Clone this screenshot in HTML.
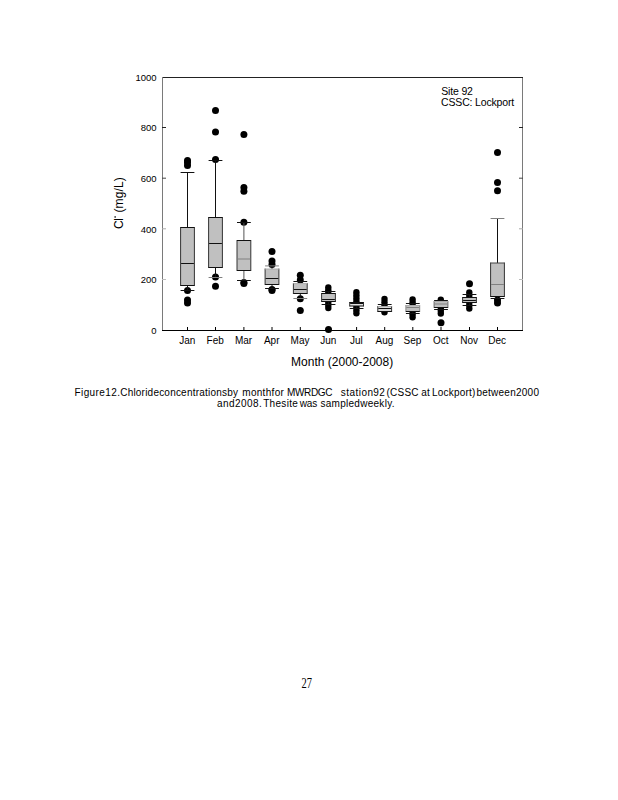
<!DOCTYPE html>
<html><head><meta charset="utf-8"><style>
html,body{margin:0;padding:0;background:#fff;}
body{width:618px;height:800px;overflow:hidden;}
svg{display:block;}
text{font-family:"Liberation Sans",sans-serif;fill:#000;}
</style></head><body>
<svg width="618" height="800" viewBox="0 0 618 800">
<rect x="0" y="0" width="618" height="800" fill="#fff"/>
<g fill="#000"><circle cx="187.50" cy="160.50" r="3.5"/><circle cx="187.50" cy="162.50" r="3.5"/><circle cx="187.50" cy="165.50" r="3.5"/><circle cx="187.50" cy="290.50" r="3.5"/><circle cx="187.50" cy="300.00" r="3.5"/><circle cx="187.50" cy="303.00" r="3.5"/><circle cx="215.50" cy="110.60" r="3.5"/><circle cx="215.50" cy="131.90" r="3.5"/><circle cx="215.50" cy="159.40" r="3.5"/><circle cx="215.50" cy="277.00" r="3.5"/><circle cx="215.50" cy="286.20" r="3.5"/><circle cx="243.90" cy="134.40" r="3.5"/><circle cx="243.90" cy="187.50" r="3.5"/><circle cx="243.90" cy="191.20" r="3.5"/><circle cx="243.90" cy="222.20" r="3.5"/><circle cx="243.90" cy="282.50" r="3.5"/><circle cx="243.90" cy="283.50" r="3.5"/><circle cx="272.00" cy="251.50" r="3.5"/><circle cx="272.00" cy="261.00" r="3.5"/><circle cx="272.00" cy="264.50" r="3.5"/><circle cx="272.00" cy="289.50" r="3.5"/><circle cx="272.00" cy="290.50" r="3.5"/><circle cx="300.30" cy="275.30" r="3.5"/><circle cx="300.30" cy="280.00" r="3.5"/><circle cx="300.30" cy="298.70" r="3.5"/><circle cx="300.30" cy="310.50" r="3.5"/><circle cx="328.30" cy="287.40" r="3.2"/><circle cx="328.30" cy="290.34" r="3.2"/><circle cx="328.30" cy="293.29" r="3.2"/><circle cx="328.30" cy="296.23" r="3.2"/><circle cx="328.30" cy="299.17" r="3.2"/><circle cx="328.30" cy="302.11" r="3.2"/><circle cx="328.30" cy="305.06" r="3.2"/><circle cx="328.30" cy="308.00" r="3.2"/><circle cx="328.50" cy="329.50" r="3.5"/><circle cx="356.40" cy="292.30" r="3.2"/><circle cx="356.40" cy="295.30" r="3.2"/><circle cx="356.40" cy="298.30" r="3.2"/><circle cx="356.40" cy="301.30" r="3.2"/><circle cx="356.40" cy="304.30" r="3.2"/><circle cx="356.40" cy="307.30" r="3.2"/><circle cx="356.40" cy="310.30" r="3.2"/><circle cx="356.40" cy="313.30" r="3.2"/><circle cx="384.50" cy="298.90" r="3.2"/><circle cx="384.50" cy="302.25" r="3.2"/><circle cx="384.50" cy="305.60" r="3.2"/><circle cx="384.50" cy="308.95" r="3.2"/><circle cx="384.50" cy="312.30" r="3.2"/><circle cx="412.60" cy="299.50" r="3.2"/><circle cx="412.60" cy="302.47" r="3.2"/><circle cx="412.60" cy="305.43" r="3.2"/><circle cx="412.60" cy="308.40" r="3.2"/><circle cx="412.60" cy="311.37" r="3.2"/><circle cx="412.60" cy="314.33" r="3.2"/><circle cx="412.60" cy="317.30" r="3.2"/><circle cx="440.80" cy="299.80" r="3.2"/><circle cx="440.80" cy="302.54" r="3.2"/><circle cx="440.80" cy="305.28" r="3.2"/><circle cx="440.80" cy="308.02" r="3.2"/><circle cx="440.80" cy="310.76" r="3.2"/><circle cx="440.80" cy="313.50" r="3.2"/><circle cx="441.00" cy="322.80" r="3.5"/><circle cx="469.50" cy="283.70" r="3.5"/><circle cx="469.30" cy="292.50" r="3.2"/><circle cx="469.30" cy="295.70" r="3.2"/><circle cx="469.30" cy="298.90" r="3.2"/><circle cx="469.30" cy="302.10" r="3.2"/><circle cx="469.30" cy="305.30" r="3.2"/><circle cx="469.30" cy="308.50" r="3.2"/><circle cx="497.50" cy="152.50" r="3.5"/><circle cx="497.50" cy="182.50" r="3.5"/><circle cx="497.50" cy="190.80" r="3.5"/><circle cx="497.50" cy="300.00" r="3.5"/><circle cx="497.50" cy="303.00" r="3.5"/></g>
<g stroke-width="1" fill="none"><line x1="187.50" y1="172.50" x2="187.50" y2="227.50" stroke="#111"/><line x1="187.50" y1="285.50" x2="187.50" y2="290.50" stroke="#111"/><line x1="180.60" y1="172.50" x2="194.40" y2="172.50" stroke="#111"/><line x1="180.60" y1="290.50" x2="194.40" y2="290.50" stroke="#111"/><rect x="180.60" y="227.50" width="13.80" height="58.00" fill="#c0c0c0" stroke="none"/><line x1="180.60" y1="227.00" x2="180.60" y2="286.00" stroke="#333"/><line x1="194.40" y1="227.00" x2="194.40" y2="286.00" stroke="#333"/><line x1="180.60" y1="227.50" x2="194.40" y2="227.50" stroke="#111"/><line x1="180.60" y1="285.50" x2="194.40" y2="285.50" stroke="#111"/><line x1="181.10" y1="263.50" x2="193.90" y2="263.50" stroke="#111"/><line x1="215.50" y1="160.50" x2="215.50" y2="217.50" stroke="#111"/><line x1="215.50" y1="267.50" x2="215.50" y2="277.50" stroke="#111"/><line x1="208.60" y1="160.50" x2="222.40" y2="160.50" stroke="#111"/><line x1="208.60" y1="277.50" x2="222.40" y2="277.50" stroke="#808080"/><rect x="208.60" y="217.50" width="13.80" height="50.00" fill="#c0c0c0" stroke="none"/><line x1="208.60" y1="217.00" x2="208.60" y2="268.00" stroke="#333"/><line x1="222.40" y1="217.00" x2="222.40" y2="268.00" stroke="#333"/><line x1="208.60" y1="217.50" x2="222.40" y2="217.50" stroke="#111"/><line x1="208.60" y1="267.50" x2="222.40" y2="267.50" stroke="#111"/><line x1="209.10" y1="243.50" x2="221.90" y2="243.50" stroke="#111"/><line x1="243.90" y1="222.50" x2="243.90" y2="240.50" stroke="#555"/><line x1="243.90" y1="270.50" x2="243.90" y2="280.50" stroke="#555"/><line x1="237.00" y1="222.50" x2="250.80" y2="222.50" stroke="#111"/><line x1="237.00" y1="280.50" x2="250.80" y2="280.50" stroke="#111"/><rect x="237.00" y="240.50" width="13.80" height="30.00" fill="#c0c0c0" stroke="none"/><line x1="237.00" y1="240.00" x2="237.00" y2="271.00" stroke="#333"/><line x1="250.80" y1="240.00" x2="250.80" y2="271.00" stroke="#333"/><line x1="237.00" y1="240.50" x2="250.80" y2="240.50" stroke="#111"/><line x1="237.00" y1="270.50" x2="250.80" y2="270.50" stroke="#111"/><line x1="237.50" y1="259.00" x2="250.30" y2="259.00" stroke="#808080"/><line x1="272.00" y1="265.90" x2="272.00" y2="269.00" stroke="#111"/><line x1="272.00" y1="284.50" x2="272.00" y2="288.50" stroke="#111"/><line x1="265.10" y1="265.90" x2="278.90" y2="265.90" stroke="#808080"/><line x1="265.10" y1="288.50" x2="278.90" y2="288.50" stroke="#111"/><rect x="265.10" y="269.00" width="13.80" height="15.50" fill="#c0c0c0" stroke="none"/><line x1="265.10" y1="268.50" x2="265.10" y2="285.00" stroke="#333"/><line x1="278.90" y1="268.50" x2="278.90" y2="285.00" stroke="#333"/><line x1="265.10" y1="269.00" x2="278.90" y2="269.00" stroke="#aaa"/><line x1="265.10" y1="284.50" x2="278.90" y2="284.50" stroke="#111"/><line x1="265.60" y1="278.50" x2="278.40" y2="278.50" stroke="#111"/><line x1="300.30" y1="281.50" x2="300.30" y2="283.60" stroke="#111"/><line x1="300.30" y1="293.50" x2="300.30" y2="298.50" stroke="#111"/><line x1="293.40" y1="281.50" x2="307.20" y2="281.50" stroke="#111"/><line x1="293.40" y1="298.50" x2="307.20" y2="298.50" stroke="#808080"/><rect x="293.40" y="283.60" width="13.80" height="9.90" fill="#c0c0c0" stroke="none"/><line x1="293.40" y1="283.10" x2="293.40" y2="294.00" stroke="#333"/><line x1="307.20" y1="283.10" x2="307.20" y2="294.00" stroke="#333"/><line x1="293.40" y1="283.60" x2="307.20" y2="283.60" stroke="#aaa"/><line x1="293.40" y1="293.50" x2="307.20" y2="293.50" stroke="#111"/><line x1="293.90" y1="289.50" x2="306.70" y2="289.50" stroke="#111"/><line x1="328.50" y1="291.50" x2="328.50" y2="293.50" stroke="#111"/><line x1="328.50" y1="301.50" x2="328.50" y2="304.50" stroke="#111"/><line x1="321.60" y1="291.50" x2="335.40" y2="291.50" stroke="#111"/><line x1="321.60" y1="304.50" x2="335.40" y2="304.50" stroke="#111"/><rect x="321.60" y="293.50" width="13.80" height="8.00" fill="#c0c0c0" stroke="none"/><line x1="321.60" y1="293.00" x2="321.60" y2="302.00" stroke="#333"/><line x1="335.40" y1="293.00" x2="335.40" y2="302.00" stroke="#333"/><line x1="321.60" y1="293.50" x2="335.40" y2="293.50" stroke="#111"/><line x1="321.60" y1="301.50" x2="335.40" y2="301.50" stroke="#111"/><line x1="322.10" y1="299.50" x2="334.90" y2="299.50" stroke="#111"/><line x1="356.60" y1="306.00" x2="356.60" y2="308.50" stroke="#111"/><line x1="349.70" y1="302.50" x2="363.50" y2="302.50" stroke="#111"/><line x1="349.70" y1="308.50" x2="363.50" y2="308.50" stroke="#111"/><rect x="349.70" y="302.50" width="13.80" height="3.50" fill="#e0e0e0" stroke="none"/><line x1="349.70" y1="302.00" x2="349.70" y2="306.50" stroke="#333"/><line x1="363.50" y1="302.00" x2="363.50" y2="306.50" stroke="#333"/><line x1="349.70" y1="302.50" x2="363.50" y2="302.50" stroke="#111"/><line x1="349.70" y1="306.00" x2="363.50" y2="306.00" stroke="#111"/><line x1="350.20" y1="303.50" x2="363.00" y2="303.50" stroke="#111"/><line x1="384.70" y1="304.50" x2="384.70" y2="306.50" stroke="#111"/><line x1="377.80" y1="304.50" x2="391.60" y2="304.50" stroke="#111"/><line x1="377.80" y1="311.50" x2="391.60" y2="311.50" stroke="#111"/><rect x="377.80" y="306.50" width="13.80" height="5.00" fill="#d8d8d8" stroke="none"/><line x1="377.80" y1="306.00" x2="377.80" y2="312.00" stroke="#333"/><line x1="391.60" y1="306.00" x2="391.60" y2="312.00" stroke="#333"/><line x1="377.80" y1="306.50" x2="391.60" y2="306.50" stroke="#aaa"/><line x1="377.80" y1="311.50" x2="391.60" y2="311.50" stroke="#111"/><line x1="378.30" y1="308.50" x2="391.10" y2="308.50" stroke="#111"/><line x1="412.80" y1="303.50" x2="412.80" y2="305.50" stroke="#111"/><line x1="412.80" y1="311.50" x2="412.80" y2="313.50" stroke="#111"/><line x1="405.90" y1="303.50" x2="419.70" y2="303.50" stroke="#111"/><line x1="405.90" y1="313.50" x2="419.70" y2="313.50" stroke="#111"/><rect x="405.90" y="305.50" width="13.80" height="6.00" fill="#c0c0c0" stroke="none"/><line x1="405.90" y1="305.00" x2="405.90" y2="312.00" stroke="#888"/><line x1="419.70" y1="305.00" x2="419.70" y2="312.00" stroke="#888"/><line x1="405.90" y1="305.50" x2="419.70" y2="305.50" stroke="#aaa"/><line x1="405.90" y1="311.50" x2="419.70" y2="311.50" stroke="#111"/><line x1="406.40" y1="307.50" x2="419.20" y2="307.50" stroke="#808080"/><line x1="441.00" y1="300.50" x2="441.00" y2="301.50" stroke="#111"/><line x1="441.00" y1="307.50" x2="441.00" y2="309.50" stroke="#111"/><line x1="434.10" y1="300.50" x2="447.90" y2="300.50" stroke="#111"/><line x1="434.10" y1="309.50" x2="447.90" y2="309.50" stroke="#111"/><rect x="434.10" y="301.50" width="13.80" height="6.00" fill="#c0c0c0" stroke="none"/><line x1="434.10" y1="301.00" x2="434.10" y2="308.00" stroke="#666"/><line x1="447.90" y1="301.00" x2="447.90" y2="308.00" stroke="#666"/><line x1="434.10" y1="301.50" x2="447.90" y2="301.50" stroke="#aaa"/><line x1="434.10" y1="307.50" x2="447.90" y2="307.50" stroke="#111"/><line x1="434.60" y1="304.00" x2="447.40" y2="304.00" stroke="#808080"/><line x1="469.50" y1="294.50" x2="469.50" y2="297.50" stroke="#111"/><line x1="469.50" y1="302.50" x2="469.50" y2="305.50" stroke="#111"/><line x1="462.60" y1="294.50" x2="476.40" y2="294.50" stroke="#111"/><line x1="462.60" y1="305.50" x2="476.40" y2="305.50" stroke="#111"/><rect x="462.60" y="297.50" width="13.80" height="5.00" fill="#c0c0c0" stroke="none"/><line x1="462.60" y1="297.00" x2="462.60" y2="303.00" stroke="#333"/><line x1="476.40" y1="297.00" x2="476.40" y2="303.00" stroke="#333"/><line x1="462.60" y1="297.50" x2="476.40" y2="297.50" stroke="#111"/><line x1="462.60" y1="302.50" x2="476.40" y2="302.50" stroke="#111"/><line x1="463.10" y1="300.50" x2="475.90" y2="300.50" stroke="#111"/><line x1="497.50" y1="218.50" x2="497.50" y2="263.00" stroke="#111"/><line x1="497.50" y1="296.50" x2="497.50" y2="298.50" stroke="#111"/><line x1="490.60" y1="218.50" x2="504.40" y2="218.50" stroke="#808080"/><line x1="490.60" y1="298.50" x2="504.40" y2="298.50" stroke="#111"/><rect x="490.60" y="263.00" width="13.80" height="33.50" fill="#c0c0c0" stroke="none"/><line x1="490.60" y1="262.50" x2="490.60" y2="297.00" stroke="#333"/><line x1="504.40" y1="262.50" x2="504.40" y2="297.00" stroke="#333"/><line x1="490.60" y1="263.00" x2="504.40" y2="263.00" stroke="#444"/><line x1="490.60" y1="296.50" x2="504.40" y2="296.50" stroke="#111"/><line x1="491.10" y1="284.50" x2="503.90" y2="284.50" stroke="#808080"/></g>
<g stroke="#000" stroke-width="1" fill="none">
<line x1="162" y1="77.5" x2="523" y2="77.5" stroke="#222"/>
<line x1="162.5" y1="77" x2="162.5" y2="330" stroke="#7a7a7a"/>
<line x1="522.5" y1="78" x2="522.5" y2="330" stroke="#7a7a7a"/>
<line x1="162" y1="330.5" x2="523" y2="330.5"/>
<line x1="187.50" y1="330" x2="187.50" y2="327"/><line x1="215.50" y1="330" x2="215.50" y2="327"/><line x1="243.90" y1="330" x2="243.90" y2="327"/><line x1="272.00" y1="330" x2="272.00" y2="327"/><line x1="300.30" y1="330" x2="300.30" y2="327"/><line x1="328.50" y1="330" x2="328.50" y2="327"/><line x1="356.60" y1="330" x2="356.60" y2="327"/><line x1="384.70" y1="330" x2="384.70" y2="327"/><line x1="412.80" y1="330" x2="412.80" y2="327"/><line x1="441.00" y1="330" x2="441.00" y2="327"/><line x1="469.50" y1="330" x2="469.50" y2="327"/><line x1="497.50" y1="330" x2="497.50" y2="327"/><line x1="162" y1="279.5" x2="166" y2="279.5" stroke="#bbb"/><line x1="162" y1="228.8" x2="166" y2="228.8" stroke="#aaa"/><line x1="162" y1="178.2" x2="166" y2="178.2" stroke="#444"/><line x1="162" y1="127.5" x2="166" y2="127.5" stroke="#222"/><line x1="523" y1="279.5" x2="519" y2="279.5" stroke="#bbb"/><line x1="523" y1="228.8" x2="519" y2="228.8" stroke="#aaa"/><line x1="523" y1="178.2" x2="519" y2="178.2" stroke="#444"/><line x1="523" y1="127.5" x2="519" y2="127.5" stroke="#222"/>
</g>
<g font-size="10"><text x="187.20" y="344.4" text-anchor="middle" font-size="10">Jan</text><text x="215.20" y="344.4" text-anchor="middle" font-size="10">Feb</text><text x="243.60" y="344.4" text-anchor="middle" font-size="10">Mar</text><text x="271.70" y="344.4" text-anchor="middle" font-size="10">Apr</text><text x="300.00" y="344.4" text-anchor="middle" font-size="10">May</text><text x="328.20" y="344.4" text-anchor="middle" font-size="10">Jun</text><text x="356.30" y="344.4" text-anchor="middle" font-size="10">Jul</text><text x="384.40" y="344.4" text-anchor="middle" font-size="10">Aug</text><text x="412.50" y="344.4" text-anchor="middle" font-size="10">Sep</text><text x="440.70" y="344.4" text-anchor="middle" font-size="10">Oct</text><text x="469.20" y="344.4" text-anchor="middle" font-size="10">Nov</text><text x="497.20" y="344.4" text-anchor="middle" font-size="10">Dec</text><text x="156.6" y="333.6" text-anchor="end" font-size="9.5">0</text><text x="156.6" y="283.3" text-anchor="end" font-size="9.5">200</text><text x="156.6" y="232.6" text-anchor="end" font-size="9.5">400</text><text x="156.6" y="182.0" text-anchor="end" font-size="9.5">600</text><text x="156.6" y="131.3" text-anchor="end" font-size="9.5">800</text><text x="156.6" y="80.8" text-anchor="end" font-size="9.5">1000</text></g>
<text x="74.50" y="395.6" font-size="10" textLength="45.45" lengthAdjust="spacing">Figure12.</text>
<text x="120.20" y="395.6" font-size="10" textLength="117.70" lengthAdjust="spacing">Chlorideconcentrationsby</text>
<text x="242.25" y="395.6" font-size="10" textLength="41.61" lengthAdjust="spacing">monthfor</text>
<text x="287.10" y="395.6" font-size="10" textLength="45.26" lengthAdjust="spacing">MWRDGC</text>
<text x="340.70" y="395.6" font-size="10" textLength="32.46" lengthAdjust="spacing">station</text>
<text x="373.35" y="395.6" font-size="10" textLength="11.47" lengthAdjust="spacing">92</text>
<text x="386.50" y="395.6" font-size="10" textLength="32.06" lengthAdjust="spacing">(CSSC</text>
<text x="421.20" y="395.6" font-size="10" textLength="8.49" lengthAdjust="spacing">at</text>
<text x="432.10" y="395.6" font-size="10" textLength="43.24" lengthAdjust="spacing">Lockport)</text>
<text x="476.45" y="395.6" font-size="10" textLength="62.51" lengthAdjust="spacing">between2000</text>
<text x="217.00" y="407.4" font-size="10" textLength="44.71" lengthAdjust="spacing">and2008.</text>
<text x="263.20" y="407.4" font-size="10" textLength="34.64" lengthAdjust="spacing">Thesite</text>
<text x="299.80" y="407.4" font-size="10" textLength="17.43" lengthAdjust="spacing">was</text>
<text x="320.50" y="407.4" font-size="10" textLength="73.95" lengthAdjust="spacing">sampledweekly.</text>
<text x="291.04" y="366.3" font-size="12" textLength="102.19" lengthAdjust="spacing">Month (2000-2008)</text>
<text x="441.13" y="94.9" font-size="10.5" textLength="31.83" lengthAdjust="spacing">Site 92</text>
<text x="441.08" y="105.6" font-size="10.5" textLength="73.13" lengthAdjust="spacing">CSSC: Lockport</text>
<text transform="translate(301.53,687.8) scale(0.699,1)" font-size="15" style="font-family:'Liberation Serif',serif">27</text>
<g transform="translate(123.2,0) rotate(-90)"><text x="-228.90" y="0" font-size="12" textLength="10.73" lengthAdjust="spacing">Cl</text><text x="-212.52" y="0" font-size="12" textLength="35.39" lengthAdjust="spacing">(mg/L)</text><rect x="-217.9" y="-8.6" width="1.9" height="1" fill="#000"/></g>
</svg>
</body></html>
